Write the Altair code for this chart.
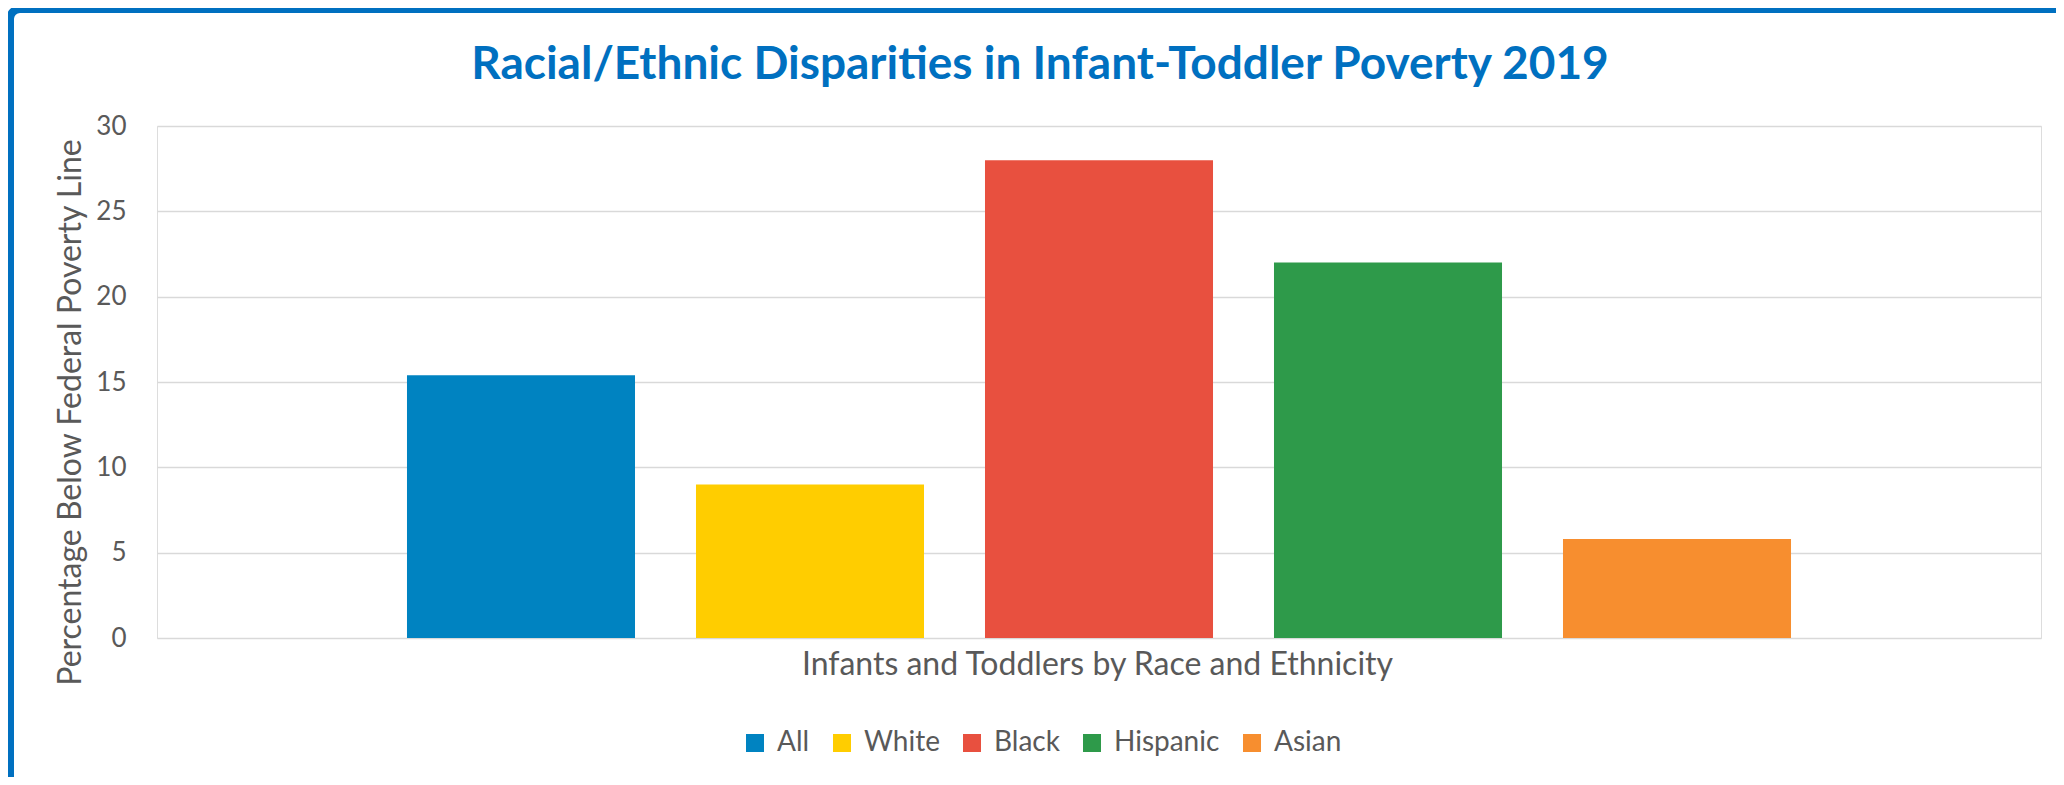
import altair as alt
import pandas as pd

groups = ["All", "White", "Black", "Hispanic", "Asian"]
values = [15.4, 9.0, 28.0, 22.0, 5.8]
colors = ["#0083C1", "#FFCD00", "#E8503F", "#2E9A4A", "#F78E2F"]
y_ticks = [0, 5, 10, 15, 20, 25, 30]

title_text = "Racial/Ethnic Disparities in Infant-Toddler Poverty 2019"
x_title = "Infants and Toddlers by Race and Ethnicity"
y_title = "Percentage Below Federal Poverty Line"

df = pd.DataFrame({"group": groups, "value": values})

FONT = "Lato"
TEXT = "#595959"
BLUE = "#0070C0"

bars = alt.Chart(df).mark_bar().encode(
    x=alt.X(
        "group:N",
        sort=groups,
        scale=alt.Scale(paddingInner=0.211, paddingOuter=0.865),
        axis=alt.Axis(
            title=x_title, labels=False, ticks=False, domain=False,
            titleFont=FONT, titleFontSize=32, titleColor=TEXT, titleFontWeight="normal",
            titleX=940, titleY=36, titleBaseline="alphabetic", titleAlign="center",
        ),
    ),
    y=alt.Y(
        "value:Q",
        scale=alt.Scale(domain=[0, 30], nice=False),
        axis=alt.Axis(
            values=y_ticks, title=y_title, grid=True, gridColor="#D9D9D9", gridWidth=1.5,
            domain=False, ticks=False, labelPadding=31, labelFont=FONT, labelFontSize=26,
            labelColor=TEXT, titleFont=FONT, titleFontSize=32, titleColor=TEXT,
            titleFontWeight="normal", titleAngle=-90, titleX=-77, titleY=286,
            titleAlign="center", titleBaseline="alphabetic",
        ),
    ),
    color=alt.Color(
        "group:N",
        sort=groups,
        scale=alt.Scale(domain=groups, range=colors),
        legend=alt.Legend(
            title=None, orient="none", legendX=584, legendY=603, direction="horizontal",
            symbolType="square", symbolSize=324, symbolStrokeWidth=0, symbolOpacity=1,
            labelFont=FONT, labelFontSize=28, labelColor=TEXT, labelOffset=8,
            columnPadding=18, padding=0,
        ),
    ),
)

border = alt.Chart(alt.Data(values=[{"k": 1}])).mark_rect(
    fillOpacity=0, stroke=BLUE, strokeWidth=8, cornerRadius=10
).encode(
    x=alt.value(-147), x2=alt.value(2100), y=alt.value(-117), y2=alt.value(900)
)

chart = alt.layer(bars, border).properties(
    width=1884,
    height=512,
    padding={"left": 149, "top": 118, "right": 15, "bottom": 139},
    autosize=alt.AutoSizeParams(type="none"),
    title=alt.Title(
        title_text, font=FONT, fontSize=46, fontWeight="bold", color=BLUE,
        anchor="middle", dx=-59, dy=160, baseline="alphabetic", offset=40,
    ),
).configure_view(stroke=None).configure(background="white")

chart.save("out.html", embed_options={"renderer": "svg", "actions": False})
